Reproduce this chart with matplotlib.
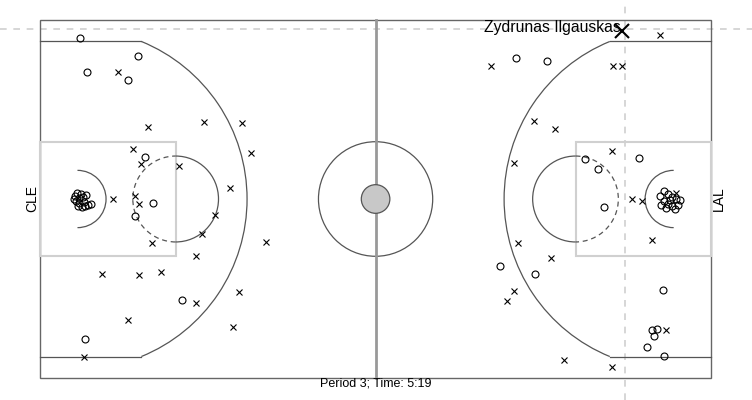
import matplotlib
matplotlib.use("Agg")
import matplotlib.pyplot as plt
from matplotlib.patches import Rectangle, Arc, Circle
import numpy as np

plt.rcParams['font.family'] = ['Liberation Sans', 'DejaVu Sans']

# ---- data (court feet; x along length 0..94, y from top sideline 0..50) ----
made_x = [5.6, 13.7, 6.6, 12.3, 14.7, 15.8, 13.3, 19.9, 6.3,
          4.9, 5.2, 5.5, 5.7, 6.0, 5.0, 5.5, 6.2, 6.4, 5.3, 5.9, 6.7, 7.1, 4.8, 6.3,
          66.7, 71.0, 76.3, 78.2, 83.9, 79.0, 64.4, 69.3, 87.3, 85.7, 86.4, 86.0, 85.0, 87.4,
          87.4, 86.8, 88.0, 88.5, 89.1, 87.4, 88.0, 88.5, 89.4, 87.0, 87.7, 88.9, 89.6, 88.2]
made_y = [2.5, 5.0, 7.3, 8.4, 19.1, 25.6, 27.4, 39.1, 44.6,
          24.6, 24.2, 24.9, 24.3, 24.7, 25.3, 25.6, 25.4, 24.4, 26.0, 26.1, 25.8, 25.7, 25.0, 26.0,
          5.3, 5.7, 19.4, 20.8, 19.3, 26.1, 34.4, 35.5, 37.7, 43.3, 43.2, 44.1, 45.7, 46.9,
          23.9, 24.6, 24.3, 24.7, 25.0, 25.3, 25.7, 26.0, 25.8, 25.8, 26.3, 26.4, 25.1, 25.1]
miss_x = [10.9, 15.1, 23.0, 28.3, 13.0, 14.1, 19.5, 29.6, 26.6, 10.2, 13.3, 13.9, 24.5,
          22.7, 15.7, 21.8, 31.7, 8.7, 13.9, 16.9, 21.8, 27.9, 12.3, 27.0, 6.2,
          86.8, 63.2, 80.3, 81.5, 69.2, 72.1, 80.1, 66.4, 82.9, 84.3, 85.7, 66.9, 71.6,
          66.4, 65.4, 87.7, 73.4, 80.1, 89.1]
miss_y = [7.3, 14.9, 14.2, 14.4, 18.0, 20.1, 20.4, 18.6, 23.5, 25.0, 24.6, 25.7, 27.2,
          29.9, 31.1, 33.0, 31.0, 35.5, 35.6, 35.2, 39.5, 38.0, 41.9, 42.9, 47.1,
          2.1, 6.4, 6.4, 6.4, 14.1, 15.2, 18.3, 20.0, 25.0, 25.3, 30.7, 31.1, 33.2,
          37.8, 39.2, 43.3, 47.5, 48.5, 24.2]

highlight_player = "Zydrunas Ilgauskas"
highlight_xy = (81.5, 1.5)
cursor_xy = (81.9, 1.26)
home_team, away_team = "CLE", "LAL"
caption = "Period 3; Time: 5:19"

# ---- figure ----
fig = plt.figure(figsize=(7.52, 4.0), dpi=100)
ax = fig.add_axes([0, 0, 1, 1])
ax.set_xlim(-40 / 7.14, 712 / 7.14)
ax.set_ylim(380 / 7.16, -20 / 7.16)
ax.axis('off')

dark = '#555555'
light = '#d0d0d0'
L, W = 94.0, 50.0

# cursor crosshair
ax.axhline(cursor_xy[1], color=light, lw=1.2, ls=(0, (4, 4)), zorder=0)
ax.axvline(cursor_xy[0], color=light, lw=1.2, ls=(0, (4, 4)), zorder=0)

# outer boundary
ax.add_patch(Rectangle((0, 0), L, W, fill=False, ec='#666666', lw=1.0))
# centre line
ax.plot([L / 2, L / 2], [0, W], color='#999999', lw=2.0)
# centre circles
ax.add_patch(Circle((L / 2, W / 2), 8, fill=False, ec=dark, lw=0.9))
ax.add_patch(Circle((L / 2, W / 2), 2, fc='#c8c8c8', ec=dark, lw=0.9, zorder=3))

theta3 = np.degrees(np.arcsin(22 / 23.75))
for side in (0, 1):
    bx = 5.25 if side == 0 else L - 5.25
    sgn = 1 if side == 0 else -1
    # key
    kx = 0 if side == 0 else L - 19
    ax.add_patch(Rectangle((kx, 17), 19, 16, fill=False, ec=light, lw=1.5))
    # free-throw circle
    fx = 19 if side == 0 else L - 19
    if side == 0:
        ax.add_patch(Arc((fx, 25), 12, 12, theta1=-90, theta2=90, ec=dark, lw=0.9))
        ax.add_patch(Arc((fx, 25), 12, 12, theta1=90, theta2=270, ec=dark, lw=0.9, ls=(0, (4, 3))))
        ax.add_patch(Arc((bx, 25), 8, 8, theta1=-90, theta2=90, ec=dark, lw=0.9))
        ax.add_patch(Arc((bx, 25), 47.5, 47.5, theta1=-theta3, theta2=theta3, ec=dark, lw=0.9))
    else:
        ax.add_patch(Arc((fx, 25), 12, 12, theta1=90, theta2=270, ec=dark, lw=0.9))
        ax.add_patch(Arc((fx, 25), 12, 12, theta1=-90, theta2=90, ec=dark, lw=0.9, ls=(0, (4, 3))))
        ax.add_patch(Arc((bx, 25), 8, 8, theta1=90, theta2=270, ec=dark, lw=0.9))
        ax.add_patch(Arc((bx, 25), 47.5, 47.5, theta1=180 - theta3, theta2=180 + theta3, ec=dark, lw=0.9))
    cx_end = bx + sgn * 23.75 * np.cos(np.radians(theta3))
    edge = 0 if side == 0 else L
    ax.plot([edge, cx_end], [3, 3], color=dark, lw=0.9)
    ax.plot([edge, cx_end], [47, 47], color=dark, lw=0.9)

# shots
ax.plot(made_x, made_y, ls='none', marker='o', ms=5, mfc='none', mec='black', mew=0.8, zorder=4)
ax.plot(miss_x, miss_y, ls='none', marker='x', ms=5, mec='black', mew=0.8, zorder=4)
ax.plot([highlight_xy[0]], [highlight_xy[1]], ls='none', marker='x', ms=10, mec='black', mew=1.5, zorder=5)
ax.text(highlight_xy[0] - 0.1, 1.7, highlight_player, ha='right', va='baseline', fontsize=11.3, zorder=6)

# team labels
ax.text(-0.1, 25, home_team, rotation=90, ha='right', va='center', fontsize=10)
ax.text(L + 0.1, 25, away_team, rotation=90, ha='left', va='center', fontsize=10)

# caption
ax.text(L / 2, 50.0, caption, ha='center', va='top', fontsize=9)

fig.savefig('out.png', dpi=100)
